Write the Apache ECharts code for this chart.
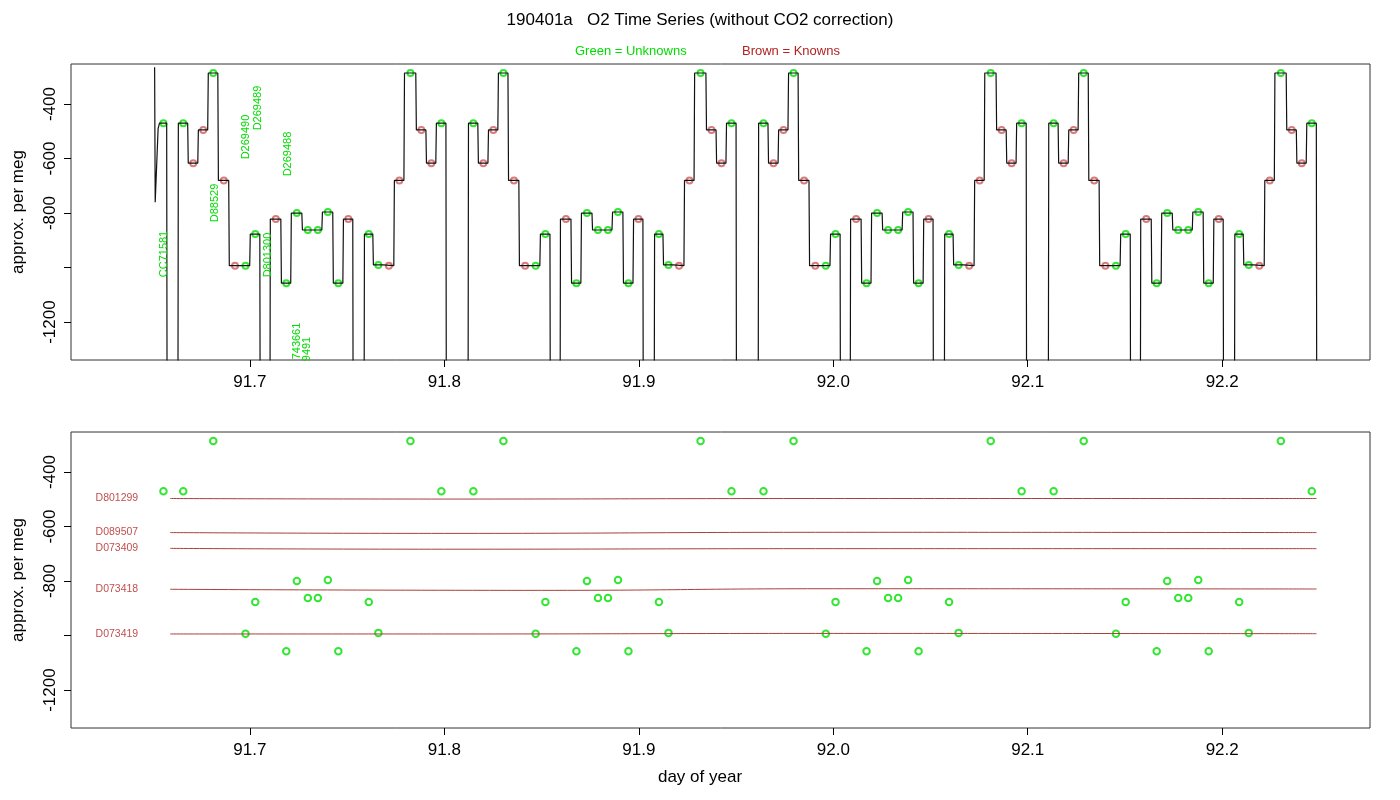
<!DOCTYPE html>
<html><head><meta charset="utf-8">
<script src="https://cdn.jsdelivr.net/npm/echarts@6/dist/echarts.min.js"></script>
<style>html,body{margin:0;padding:0;background:#fff}#c{width:1400px;height:800px}</style>
</head><body><div id="c"></div>
<script>
const D = -2000; // off-scale drop (flush)
const startTrace = [[91.6510,-265],[91.6513,-760],[91.6528,-490],[91.6535,-470]];
const stepStart = [91.6535,91.6572,
 91.6629,91.6680,91.6732,91.6783,91.6835,91.6891,91.6999,91.7051,91.7102,91.7159,91.7210,91.7267,91.7370,91.7426,91.7478,91.7529,91.7586,91.7632,91.7684,91.7740,91.7792,91.7853,91.7905,91.7956,91.8008,
 91.8121,91.8172,91.8224,91.8275,91.8327,91.8383,91.8491,91.8543,91.8594,91.8651,91.8702,91.8759,91.8862,91.8918,91.8970,91.9021,91.9078,91.9124,91.9176,91.9232,91.9284,91.9345,91.9397,91.9448,91.9500,
 91.9613,91.9664,91.9716,91.9767,91.9819,91.9875,91.9983,92.0035,92.0086,92.0143,92.0194,92.0251,92.0354,92.0410,92.0462,92.0513,92.0570,92.0616,92.0668,92.0724,92.0776,92.0837,92.0889,92.0940,92.0992,
 92.1105,92.1156,92.1208,92.1259,92.1311,92.1367,92.1475,92.1527,92.1578,92.1635,92.1686,92.1743,92.1846,92.1902,92.1954,92.2005,92.2062,92.2108,92.2160,92.2216,92.2268,92.2329,92.2381,92.2432,92.2484];
const stepEnd = 92.2490;
const cycLevels = [-470,-617,-495,-286,-680,-993,-877,D,-822,-1057,-800,-862,-796,-1057,-822,D,-877,-990,-993,-680,-286,-495,-617,-470,D];
const cycMarks  = ['G','K','K','G','K','KG','G','-','K','G','G','GG','G','G','K','-','G','G','K','K','G','K','K','G','-'];
const stepLevel = [-470,D].concat(cycLevels,cycLevels,cycLevels,cycLevels);
const stepMark  = ['G','-'].concat(cycMarks,cycMarks,cycMarks,cycMarks);

const knownNames = ['D801299','D089507','D073409','D073418','D073419'];
const knownLines = [
 [[91.659,-497],[91.80,-499],[92.00,-497],[92.2485,-497]],
 [[91.659,-622],[91.80,-625],[92.00,-621],[92.2485,-622]],
 [[91.659,-680],[91.80,-683],[92.00,-681],[92.2485,-681]],
 [[91.659,-830],[91.85,-834],[92.00,-828],[92.2485,-829]],
 [[91.659,-994],[91.80,-994],[92.00,-992],[92.2485,-993]]];

const rotLabels = [['CC71581',164,254],['D88529',215,203],['D269490',246,137],['D269489',258,108],['D269488',288,154],['D801300',268,255],['743661',297,341],['9491',307,349]];

const trace = startTrace.slice();
const greens = [], browns = [];
for (let i=0;i<stepStart.length;i++){
  const t0=stepStart[i], t1=(i+1<stepStart.length)?stepStart[i+1]:stepEnd, v=stepLevel[i];
  trace.push([t0+0.0003,v],[t1,v]);
  const m=stepMark[i];
  const at=f=>t0+(t1-t0)*f;
  if(m==='G') greens.push([at(0.55),v]);
  else if(m==='K') browns.push([at(0.55),v]);
  else if(m==='KG'){browns.push([at(0.3),v]);greens.push([at(0.8),v]);}
  else if(m==='GG'){greens.push([at(0.3),v]);greens.push([at(0.8),v]);}
}

const F='Liberation Sans, Arial, sans-serif';
const xTicks=[91.7,91.8,91.9,92.0,92.1,92.2];
const yTicks=[-400,-600,-800,-1000,-1200];
function xAx(gi){return {type:'value',gridIndex:gi,min:91.608,max:92.276,
  axisLine:{show:false},splitLine:{show:false},
  axisTick:{show:true,length:7,customValues:xTicks,lineStyle:{color:'#000'}},
  axisLabel:{customValues:xTicks,fontSize:17,fontFamily:F,color:'#000',margin:14,formatter:v=>v.toFixed(1)}};}
function yAx(gi){return {type:'value',gridIndex:gi,min:-1339,max:-253,
  axisLine:{show:false},splitLine:{show:false},
  name:'approx. per meg',nameLocation:'middle',nameGap:44,nameTextStyle:{fontSize:17,fontFamily:F,color:'#000'},
  axisTick:{show:true,length:7,customValues:yTicks,lineStyle:{color:'#000'}},
  axisLabel:{customValues:[-400,-600,-800,-1200],rotate:90,fontSize:17,fontFamily:F,color:'#000',margin:12,formatter:v=>String(v)}};}

const series=[
 {type:'line',xAxisIndex:0,yAxisIndex:0,data:trace,showSymbol:false,lineStyle:{color:'#111',width:1.2},clip:true,silent:true,animation:false},
 {type:'scatter',xAxisIndex:0,yAxisIndex:0,data:browns,symbol:'emptyCircle',symbolSize:6,itemStyle:{color:'#d05a5a',borderWidth:0.8},animation:false},
 {type:'scatter',xAxisIndex:0,yAxisIndex:0,data:greens,symbol:'emptyCircle',symbolSize:6,itemStyle:{color:'#00e000',borderWidth:0.8},animation:false},
 {type:'scatter',xAxisIndex:1,yAxisIndex:1,data:greens,symbol:'emptyCircle',symbolSize:6.5,itemStyle:{color:'#00e000',borderWidth:0.8},animation:false},
 {type:'scatter',xAxisIndex:1,yAxisIndex:1,symbolSize:0,animation:false,
  data:knownLines.map((d,k)=>({value:d[0],label:{show:true,position:'left',distance:32,formatter:knownNames[k]}})),
  label:{color:'#b22222',fontSize:10.5,fontFamily:F}}
];
knownLines.forEach((d,k)=>{
  series.push({type:'line',xAxisIndex:1,yAxisIndex:1,data:d,
    showSymbol:false,smooth:true,lineStyle:{color:'#a8403a',width:1},animation:false});
});

const graphic=[
 {type:'text',left:'center',top:12,style:{text:'190401a   O2 Time Series (without CO2 correction)',fontSize:17,fontFamily:F,fill:'#000'}},
 {type:'text',x:575,y:45,style:{text:'Green = Unknowns',fontSize:13,fontFamily:F,fill:'#00dd00'}},
 {type:'text',x:742,y:45,style:{text:'Brown = Knowns',fontSize:13,fontFamily:F,fill:'#b22222'}},
 {type:'text',left:'center',top:769,style:{text:'day of year',fontSize:17,fontFamily:F,fill:'#000'}}
];
rotLabels.forEach(([t,x,y])=>graphic.push({type:'text',x:x,y:y,rotation:Math.PI/2,z:10,
  style:{text:t,fontSize:11,fontFamily:F,fill:'#00dd00',align:'center',verticalAlign:'middle'}}));

const chart=echarts.init(document.getElementById('c'));
chart.setOption({animation:false,backgroundColor:'#fff',
 grid:[{left:71,right:30,top:64,height:296,show:true,borderColor:'#333',borderWidth:1},
       {left:71,right:30,top:432,height:296,show:true,borderColor:'#333',borderWidth:1}],
 xAxis:[xAx(0),xAx(1)],yAxis:[yAx(0),yAx(1)],series:series,graphic:graphic});
</script></body></html>
